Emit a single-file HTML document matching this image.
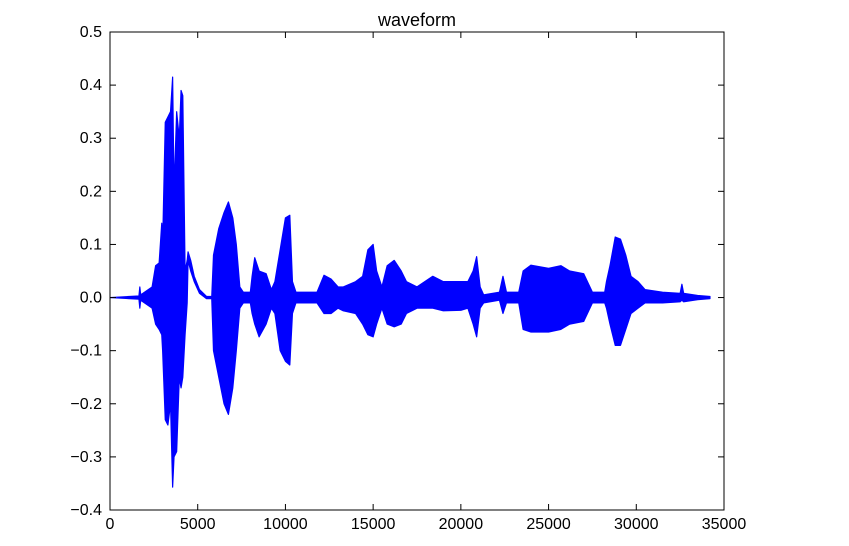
<!DOCTYPE html>
<html><head><meta charset="utf-8"><style>
html,body{margin:0;padding:0;background:#fff;}
svg{display:block;font-family:"Liberation Sans",sans-serif;}
</style></head><body>
<svg id="chart" width="849" height="546" viewBox="0 0 849 546" xmlns="http://www.w3.org/2000/svg">
<rect width="849" height="546" fill="#fff"/>
<text x="417" y="26" font-size="18" text-anchor="middle">waveform</text>
<defs><clipPath id="plotclip"><rect x="110" y="32" width="614" height="478"/></clipPath></defs>
<g id="series" clip-path="url(#plotclip)"></g>
<g id="axes"></g>
</svg>
<script>
const sampleIdx = [0,1650,1700,1750,2400,2600,2800,2950,3000,3150,3300,3450,3570,3650,3800,3950,4050,4150,4280,4400,4450,4600,4800,5100,5500,5800,5900,6200,6500,6750,7000,7200,7400,7600,8000,8100,8250,8500,8900,9200,9400,9700,10000,10250,10400,10600,11800,12200,12600,13000,13300,14000,14400,14700,15000,15200,15500,15800,16200,16600,16900,17500,18400,19000,20000,20400,20700,20900,21100,21300,22200,22400,22600,23300,23550,24000,25000,25700,26200,27000,27500,28200,28300,28500,28800,29100,29400,29700,30100,30500,31500,32500,32600,32700,33500,34200];
const envMax = [0,0.003,0.02,0.005,0.02,0.06,0.065,0.14,0.1,0.33,0.34,0.35,0.415,0.2,0.35,0.3,0.39,0.38,0.05,0.07,0.086,0.07,0.04,0.015,0.002,0.002,0.08,0.13,0.16,0.18,0.15,0.1,0.02,0.01,0.01,0.04,0.075,0.05,0.045,0.015,0.03,0.09,0.15,0.155,0.03,0.01,0.01,0.042,0.035,0.02,0.02,0.03,0.04,0.09,0.1,0.05,0.02,0.06,0.07,0.05,0.03,0.02,0.04,0.03,0.03,0.03,0.05,0.077,0.02,0.005,0.01,0.04,0.01,0.01,0.05,0.061,0.055,0.06,0.05,0.045,0.01,0.01,0.03,0.06,0.114,0.11,0.08,0.04,0.03,0.015,0.01,0.008,0.025,0.008,0.004,0.002];
const envMin = [0,-0.003,-0.02,-0.005,-0.02,-0.05,-0.06,-0.07,-0.1,-0.23,-0.24,-0.2,-0.357,-0.3,-0.29,-0.15,-0.17,-0.15,-0.07,-0.01,0.07,0.05,0.03,0.008,-0.002,-0.002,-0.1,-0.15,-0.2,-0.22,-0.17,-0.1,-0.02,-0.01,-0.01,-0.03,-0.05,-0.074,-0.05,-0.02,-0.03,-0.1,-0.12,-0.127,-0.03,-0.01,-0.01,-0.03,-0.03,-0.02,-0.025,-0.03,-0.05,-0.07,-0.074,-0.05,-0.02,-0.05,-0.055,-0.05,-0.03,-0.02,-0.02,-0.025,-0.024,-0.02,-0.05,-0.074,-0.02,-0.01,-0.005,-0.03,-0.01,-0.01,-0.06,-0.065,-0.065,-0.06,-0.05,-0.045,-0.01,-0.01,-0.02,-0.05,-0.09,-0.09,-0.06,-0.03,-0.02,-0.01,-0.01,-0.008,-0.005,-0.008,-0.004,-0.002];
const xTicks = [0,5000,10000,15000,20000,25000,30000,35000];
const yTicks = [0.5,0.4,0.3,0.2,0.1,0.0,-0.1,-0.2,-0.3,-0.4];
const yTickLabels = ["0.5","0.4","0.3","0.2","0.1","0.0","\u22120.1","\u22120.2","\u22120.3","\u22120.4"];

const L=110,R=724,T=32,B=510;
const xS = v => L + (v-0)/(35000-0)*(R-L);
const yS = v => T + (0.5-v)/(0.5-(-0.4))*(B-T);
const NS="http://www.w3.org/2000/svg";
const series=document.getElementById('series');
const axes=document.getElementById('axes');

let pts=[];
for(let i=0;i<sampleIdx.length;i++) pts.push(xS(sampleIdx[i]).toFixed(2)+','+yS(envMax[i]).toFixed(2));
for(let i=sampleIdx.length-1;i>=0;i--) pts.push(xS(sampleIdx[i]).toFixed(2)+','+yS(envMin[i]).toFixed(2));
const poly=document.createElementNS(NS,'polygon');


poly.setAttribute('points',pts.join(' '));
poly.setAttribute('fill','#0000ff');
poly.setAttribute('stroke','#0000ff');
poly.setAttribute('stroke-width','1.2');
poly.setAttribute('stroke-linejoin','round');
series.appendChild(poly);

const frame=document.createElementNS(NS,'rect');


frame.setAttribute('x',L);frame.setAttribute('y',T);frame.setAttribute('width',R-L);frame.setAttribute('height',B-T);
frame.setAttribute('fill','none');frame.setAttribute('stroke','#000');frame.setAttribute('stroke-width','1');
axes.appendChild(frame);

function line(x1,y1,x2,y2){const l=document.createElementNS(NS,'line');l.setAttribute('x1',x1);l.setAttribute('y1',y1);l.setAttribute('x2',x2);l.setAttribute('y2',y2);l.setAttribute('stroke','#000');l.setAttribute('stroke-width','1');return l;}
xTicks.forEach(t=>{
  const x=xS(t);
  const a=line(x,B,x,B-6);
  
  
  axes.appendChild(a);
  const b=line(x,T,x,T+6);
  
  
  axes.appendChild(b);
  const tx=document.createElementNS(NS,'text');
  
  
  tx.setAttribute('x',x);tx.setAttribute('y',B+19);tx.setAttribute('font-size','16');tx.setAttribute('text-anchor','middle');
  tx.textContent=String(t);axes.appendChild(tx);
});
yTicks.forEach((t,i)=>{
  const y=yS(t);
  const a=line(L,y,L+6,y);
  
  
  axes.appendChild(a);
  const b=line(R,y,R-6,y);
  
  
  axes.appendChild(b);
  const tx=document.createElementNS(NS,'text');
  
  
  tx.setAttribute('x',L-8);tx.setAttribute('y',y+5);tx.setAttribute('font-size','16');tx.setAttribute('text-anchor','end');
  tx.textContent=yTickLabels[i];axes.appendChild(tx);
});
</script>
</body></html>
